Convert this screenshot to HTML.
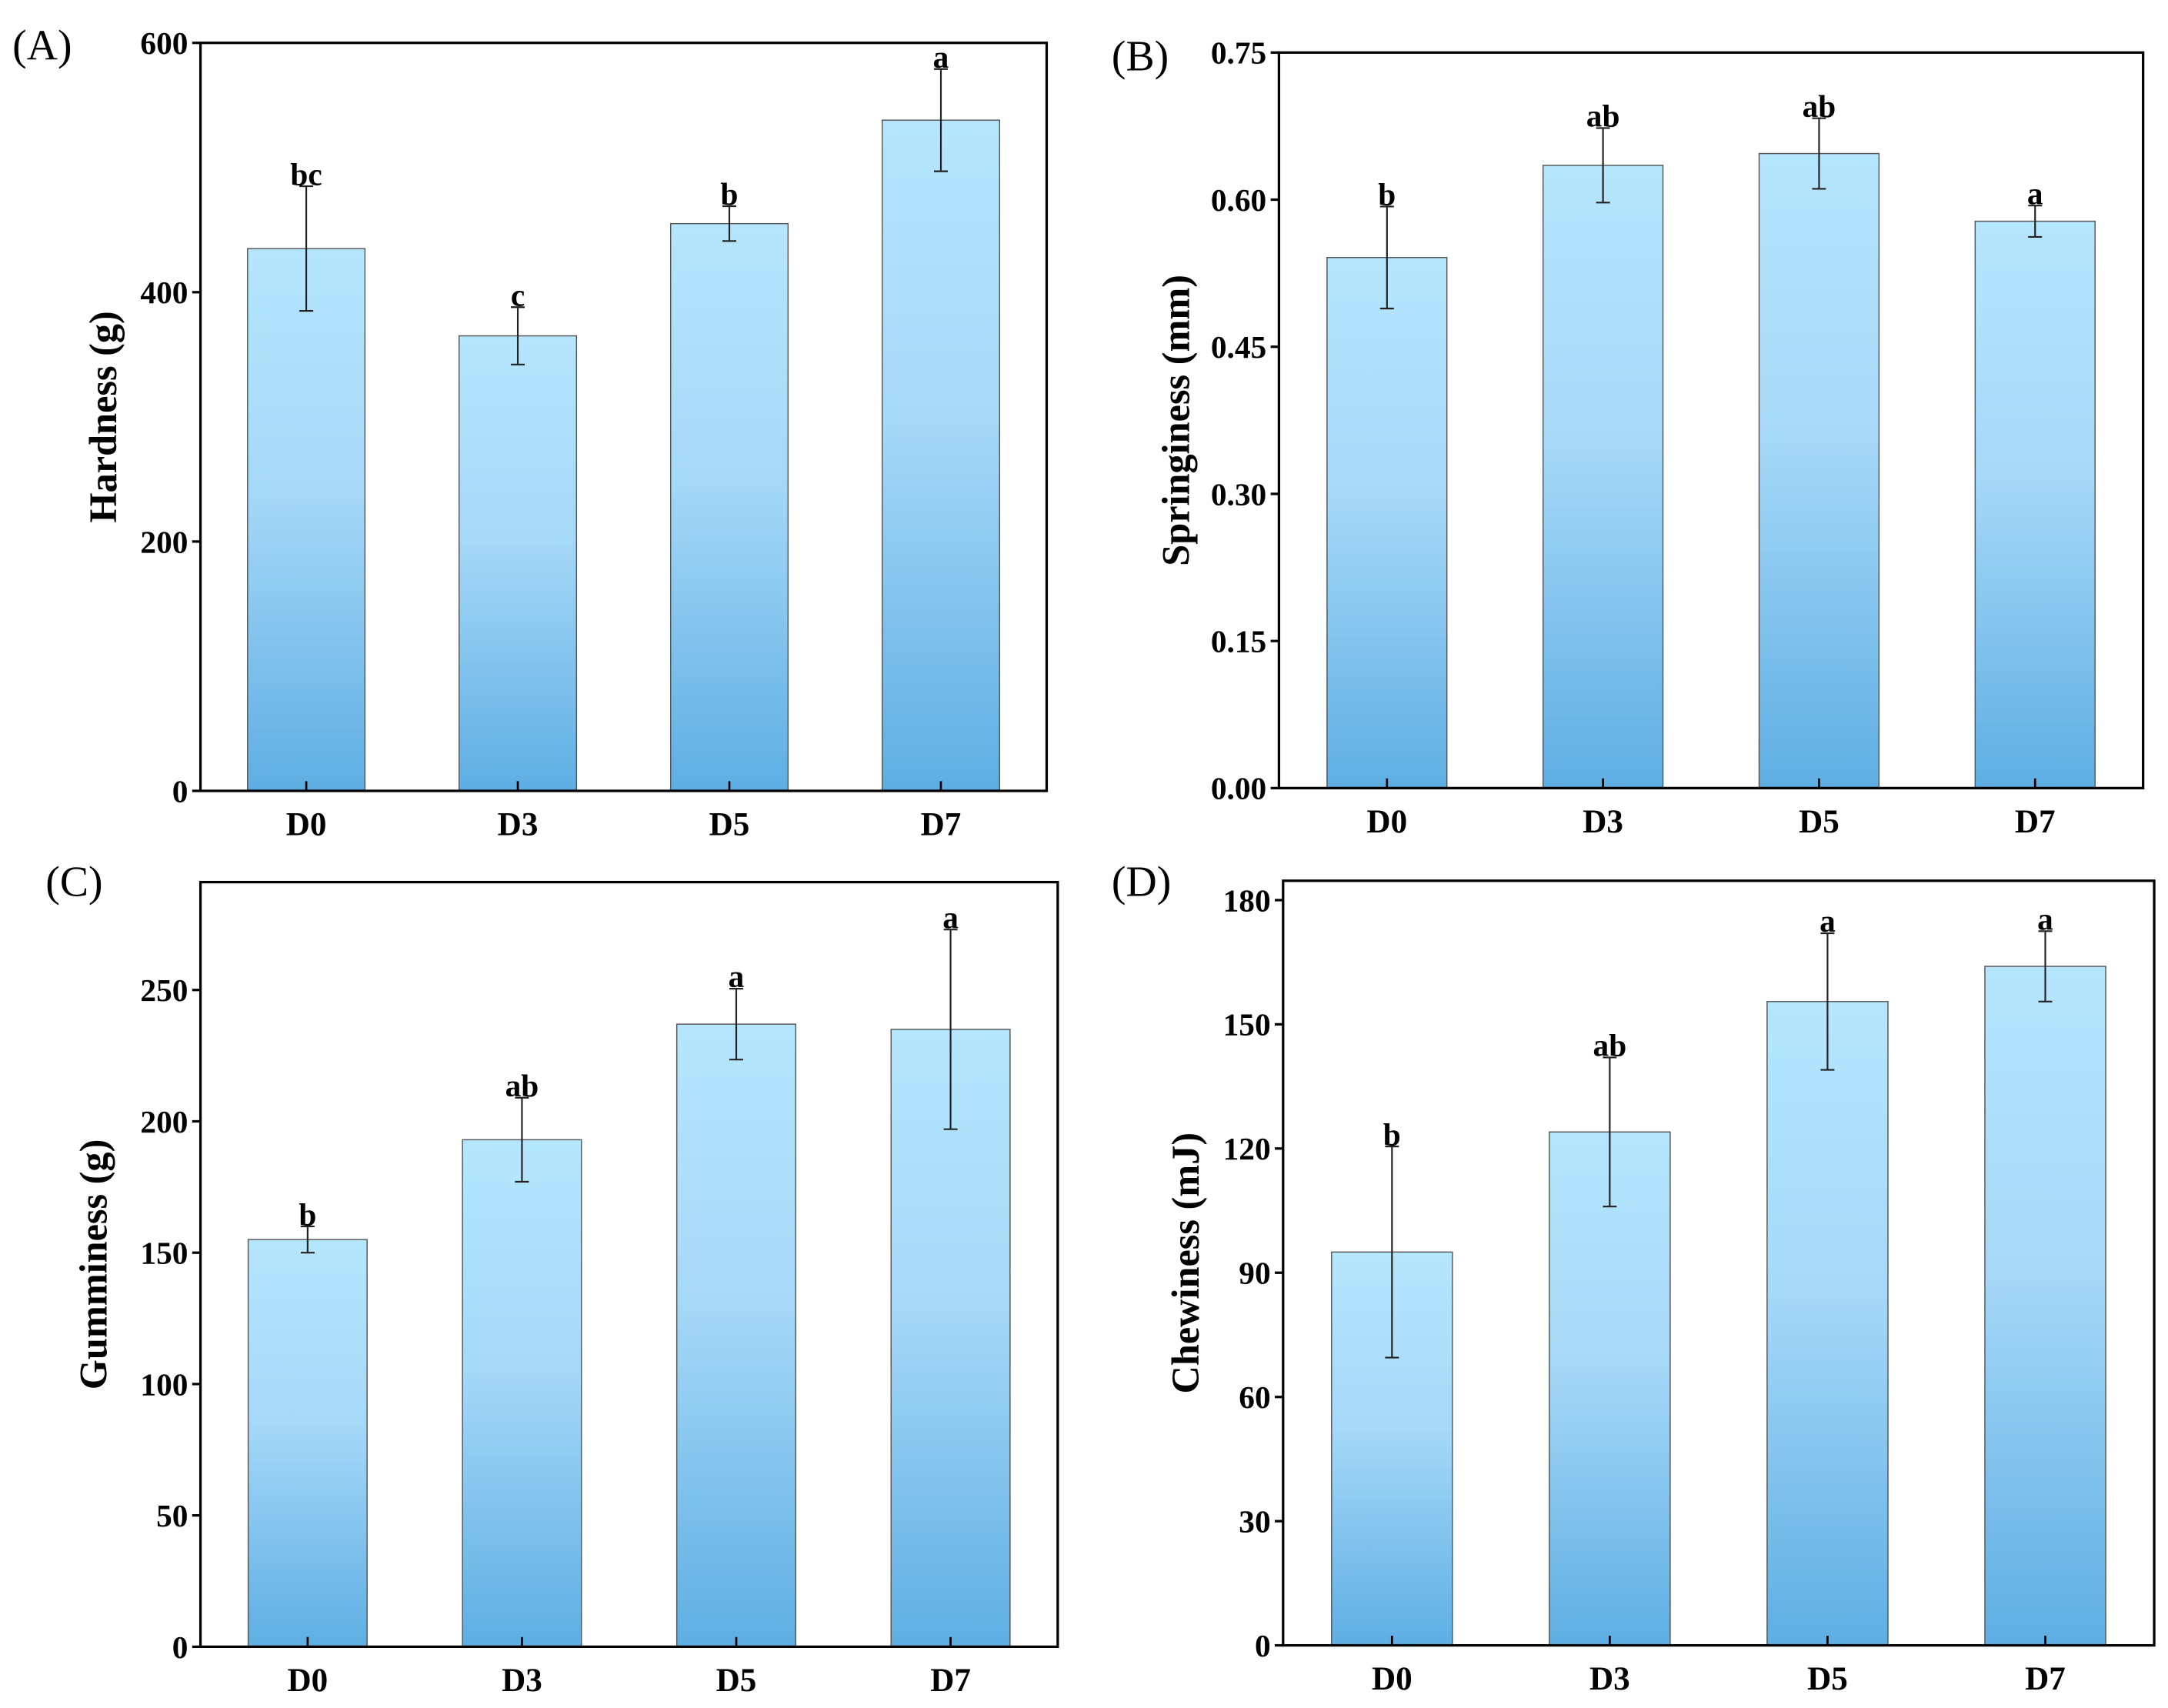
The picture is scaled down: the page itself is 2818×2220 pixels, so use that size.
<!DOCTYPE html>
<html><head><meta charset="utf-8"><style>
html,body{margin:0;padding:0;background:#fff;width:2818px;height:2220px;overflow:hidden;}
svg{display:block;}
text{font-family:"Liberation Serif",serif;}
</style></head><body>
<svg id="chart" width="2818" height="2220" viewBox="0 0 1568 1235.3" preserveAspectRatio="none" xmlns="http://www.w3.org/2000/svg">
<defs><linearGradient id="bg" x1="0" y1="0" x2="0" y2="1">
<stop offset="0" stop-color="#b5e6fd"/><stop offset="0.45" stop-color="#a6d8f7"/><stop offset="1" stop-color="#5eaee3"/></linearGradient></defs>
</svg>
<script>
const categories = ["D0","D3","D5","D7"];
const hardnessValues = [435,365,455,538];
const hardnessErr = [50,23,14,41];
const hardnessLetters = ["bc","c","b","a"];
const hardnessTicks = [0,200,400,600];
const springValues = [0.541,0.635,0.647,0.578];
const springErr = [0.052,0.038,0.036,0.016];
const springLetters = ["b","ab","ab","a"];
const springTicks = [0,0.15,0.30,0.45,0.60,0.75];
const springTickLabels = ["0.00","0.15","0.30","0.45","0.60","0.75"];
const gumValues = [155,193,237,235];
const gumErr = [5,16,13.5,38];
const gumLetters = ["b","ab","a","a"];
const gumTicks = [0,50,100,150,200,250];
const chewValues = [95,124,155.5,164];
const chewErr = [25.5,18,16.5,8.5];
const chewLetters = ["b","ab","a","a"];
const chewTicks = [0,30,60,90,120,150,180];

const svg = document.getElementById('chart');
const NS = 'http://www.w3.org/2000/svg';
function mk(tag, attrs, parent){const e=document.createElementNS(NS,tag);for(const k in attrs)e.setAttribute(k,attrs[k]);(parent||svg).appendChild(e);return e;}

function panel(o){
  const g = mk('g',{});
  
  
  const y = v => o.bottom - (v - 0)/(o.ymax) * (o.bottom - o.yTop);
  const step = (o.right - o.left)/4;
  const x = i => o.left + step*(i+0.5);
  const bw = step*0.555;
  o.values.forEach((v,i)=>{
    const r = mk('rect',{x:x(i)-bw/2,y:y(v),width:bw,height:o.bottom-y(v),fill:'url(#bg)',stroke:'#555','stroke-width':0.8},g);
    
    
    const hi=y(v+o.err[i]), lo=y(v-o.err[i]);
    const eb = mk('path',{d:`M${x(i)},${hi}V${lo}M${x(i)-5},${hi}H${x(i)+5}M${x(i)-5},${lo}H${x(i)+5}`,stroke:'#222','stroke-width':1.2,fill:'none'},g);
    
    
    const t = mk('text',{x:x(i),y:hi-1,'text-anchor':'middle','font-size':23,'font-weight':'bold'},g);
    t.textContent = o.letters[i];
    
    
    mk('line',{x1:x(i),x2:x(i),y1:o.bottom,y2:o.bottom-7,stroke:'#000','stroke-width':1.5},g);
    const xl = mk('text',{x:x(i),y:o.bottom+32,'text-anchor':'middle','font-size':24,'font-weight':'bold'},g);
    xl.textContent = categories[i];
    
    
  });
  const fr = mk('rect',{x:o.left,y:o.top,width:o.right-o.left,height:o.bottom-o.top,fill:'none',stroke:'#000','stroke-width':1.8},g);
  
  
  o.ticks.forEach((t,i)=>{
    mk('line',{x1:o.left-6,x2:o.left,y1:y(t),y2:y(t),stroke:'#000','stroke-width':1.8},g);
    const tl = mk('text',{x:o.left-9,y:y(t)+8,'text-anchor':'end','font-size':23,'font-weight':'bold'},g);
    tl.textContent = o.tickLabels ? o.tickLabels[i] : t;
    
    
  });
  const cy=(o.top+o.bottom)/2;
  const yt = mk('text',{x:o.titleX,y:cy,'text-anchor':'middle','font-size':28,'font-weight':'bold',transform:`rotate(-90 ${o.titleX} ${cy})`},g);
  yt.textContent = o.title;
  
  
  const pl = mk('text',{x:o.labX,y:o.labY,'font-size':31,'font-family':o.labFont},g);
  pl.textContent = o.label;
  
  
}
panel({name:'panel-a-hardness',left:145,right:757,top:31,bottom:572,yTop:31,ymax:600,values:hardnessValues,err:hardnessErr,letters:hardnessLetters,ticks:hardnessTicks,title:'Hardness (g)',titleX:84,label:'(A)',labX:9,labY:43,labFont:'"Liberation Sans",sans-serif'});
panel({name:'panel-b-springiness',left:925,right:1550,top:38,bottom:570,yTop:38,ymax:0.75,values:springValues,err:springErr,letters:springLetters,ticks:springTicks,tickLabels:springTickLabels,title:'Springiness (mm)',titleX:860,label:'(B)',labX:804,labY:51,labFont:'"Liberation Serif",serif'});
panel({name:'panel-c-gumminess',left:145,right:765,top:638,bottom:1191,yTop:716,ymax:250,values:gumValues,err:gumErr,letters:gumLetters,ticks:gumTicks,title:'Gumminess (g)',titleX:77,label:'(C)',labX:33,labY:648,labFont:'"Liberation Serif",serif'});
panel({name:'panel-d-chewiness',left:928,right:1558,top:637,bottom:1190,yTop:651,ymax:180,values:chewValues,err:chewErr,letters:chewLetters,ticks:chewTicks,title:'Chewiness (mJ)',titleX:867,label:'(D)',labX:804,labY:648,labFont:'"Liberation Serif",serif'});
</script>
</body></html>
